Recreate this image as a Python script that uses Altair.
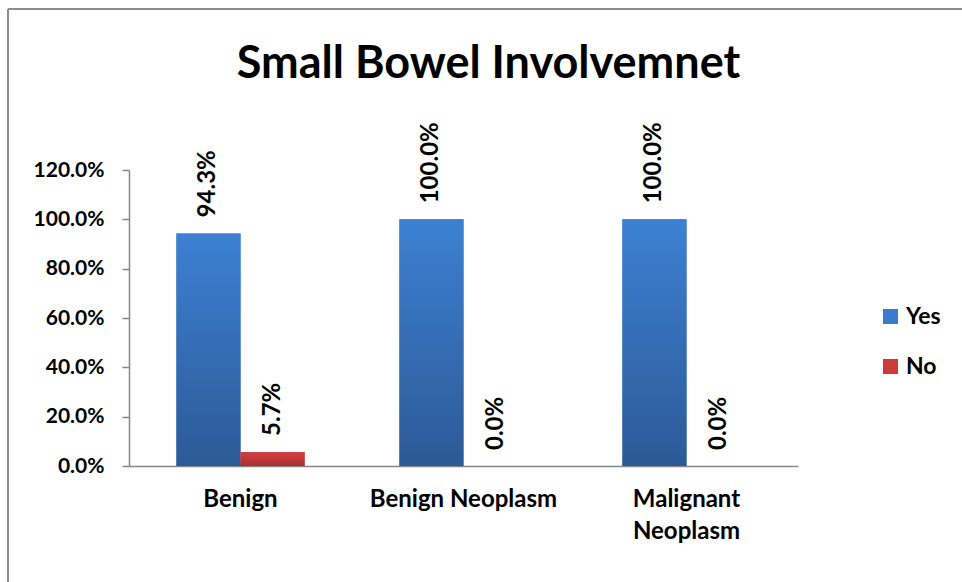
import altair as alt
import pandas as pd

# Chart values
categories = ["Benign", "Benign Neoplasm", "Malignant Neoplasm"]
series_names = ["Yes", "No"]
yes_values = [0.943, 1.000, 1.000]
no_values = [0.057, 0.000, 0.000]
y_ticks = [0.0, 0.2, 0.4, 0.6, 0.8, 1.0, 1.2]

rows = []
for cat, yv, nv in zip(categories, yes_values, no_values):
    rows.append({"category": cat, "series": "Yes", "value": yv})
    rows.append({"category": cat, "series": "No", "value": nv})
df = pd.DataFrame(rows)

FONT = "Lato"
AXIS_GREY = "#868686"
solid_colors = ["#3a7bcd", "#cc3b3b"]


def vertical_gradient(top, bottom):
    return alt.Gradient(
        gradient="linear",
        stops=[alt.GradientStop(color=top, offset=0), alt.GradientStop(color=bottom, offset=1)],
        x1=0, x2=0, y1=0, y2=1,
    )


gradients = {
    "Yes": vertical_gradient("#3d80d3", "#2c5a96"),
    "No": vertical_gradient("#d44040", "#a93030"),
}

x_enc = alt.X(
    "category:N",
    sort=categories,
    scale=alt.Scale(paddingInner=0, paddingOuter=0),
    axis=alt.Axis(
        title=None,
        labelAngle=0,
        ticks=False,
        domainColor=AXIS_GREY,
        domainWidth=1.5,
        labelFont=FONT,
        labelFontWeight="bold",
        labelFontSize=24,
        labelColor="black",
        labelPadding=21,
        labelBaseline="top",
        labelLineHeight=32,
        labelLimit=400,
        labelExpr="length(datum.label) > 15 ? split(datum.label, ' ') : datum.label",
    ),
)
xoff_enc = alt.XOffset(
    "series:N",
    sort=series_names,
    scale=alt.Scale(domain=series_names, paddingInner=0, paddingOuter=0.74),
)
y_enc = alt.Y(
    "value:Q",
    scale=alt.Scale(domain=[0, 1.2], nice=False),
    axis=alt.Axis(
        title=None,
        values=y_ticks,
        format=".1%",
        grid=False,
        domainColor=AXIS_GREY,
        domainWidth=1.5,
        tickColor=AXIS_GREY,
        tickWidth=1.5,
        tickSize=7,
        labelFont=FONT,
        labelFontWeight="bold",
        labelFontSize=21,
        labelColor="black",
        labelPadding=18,
    ),
)

base = alt.Chart(df)

# Solid bars carry the legend; gradient bars are drawn over them
legend_bars = base.mark_bar().encode(
    x=x_enc,
    xOffset=xoff_enc,
    y=y_enc,
    color=alt.Color(
        "series:N",
        scale=alt.Scale(domain=series_names, range=solid_colors),
        legend=alt.Legend(
            title=None,
            orient="none",
            legendX=750,
            legendY=135,
            symbolType="square",
            symbolSize=225,
            symbolStrokeWidth=0,
            labelFont=FONT,
            labelFontWeight="bold",
            labelFontSize=23,
            labelColor="black",
            labelOffset=4,
            rowPadding=26,
        ),
    ),
)

gradient_layers = [
    base.transform_filter(alt.datum.series == name)
    .mark_bar(color=gradients[name])
    .encode(x=x_enc, xOffset=xoff_enc, y=y_enc)
    for name in series_names
]

labels = base.mark_text(
    angle=270,
    align="left",
    baseline="middle",
    dx=16,
    font=FONT,
    fontWeight="bold",
    fontSize=24,
    color="black",
).encode(
    x=x_enc,
    xOffset=xoff_enc,
    y=y_enc,
    text=alt.Text("value:Q", format=".1%"),
)

# Outer frame lines around the chart
frame_src = alt.Chart(pd.DataFrame({"k": [0]}))
frame_left = frame_src.mark_rule(color="#8c8c8c", strokeWidth=2).encode(
    x=alt.value(-121), y=alt.value(-161), y2=alt.value(412)
)
frame_top = frame_src.mark_rule(color="#8c8c8c", strokeWidth=2).encode(
    x=alt.value(-121), x2=alt.value(833), y=alt.value(-161)
)

chart = (
    alt.layer(legend_bars, *gradient_layers, labels, frame_left, frame_top)
    .properties(
        width=669,
        height=296,
        autosize=alt.AutoSizeParams(type="none"),
        padding={"left": 129, "top": 170, "right": 164, "bottom": 116},
        background="white",
        title=alt.TitleParams(
            "Small Bowel Involvemnet",
            font=FONT,
            fontSize=45,
            fontWeight="bold",
            color="black",
            anchor="middle",
            baseline="alphabetic",
            dx=25,
            offset=-115,
        ),
    )
    .configure_view(strokeWidth=0)
)

chart.save("out.html", embed_options={"renderer": "svg", "actions": False})
